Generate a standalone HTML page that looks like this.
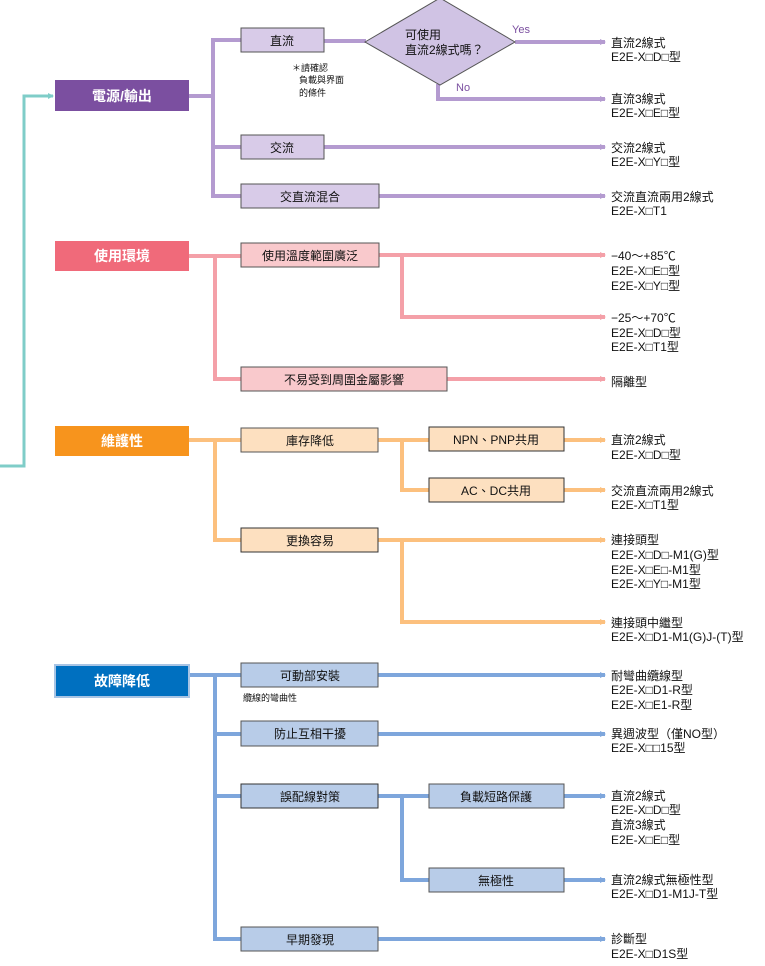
<!DOCTYPE html>
<html><head><meta charset="utf-8"><style>
html,body{margin:0;padding:0;background:#fff;}
svg{display:block;}
text{font-family:"Liberation Sans","Noto Sans CJK TC",sans-serif;font-size:12px;fill:#111;}
.b{font-size:12px;text-anchor:middle;dominant-baseline:central;}
.c{font-size:14px;fill:#fff;text-anchor:middle;dominant-baseline:central;font-weight:bold;}
.s{font-size:9px;}
</style></head><body>
<svg width="765" height="966" viewBox="0 0 765 966" xmlns="http://www.w3.org/2000/svg">
<defs>
<marker id="ap" markerWidth="6" markerHeight="6" refX="5" refY="3" orient="auto" markerUnits="userSpaceOnUse"><path d="M0,0 L6,3 L0,6z" fill="#b49bd0"/></marker>
<marker id="ak" markerWidth="6" markerHeight="6" refX="5" refY="3" orient="auto" markerUnits="userSpaceOnUse"><path d="M0,0 L6,3 L0,6z" fill="#f4a0a8"/></marker>
<marker id="ao" markerWidth="6" markerHeight="6" refX="5" refY="3" orient="auto" markerUnits="userSpaceOnUse"><path d="M0,0 L6,3 L0,6z" fill="#fcc07e"/></marker>
<marker id="ab" markerWidth="6" markerHeight="6" refX="5" refY="3" orient="auto" markerUnits="userSpaceOnUse"><path d="M0,0 L6,3 L0,6z" fill="#7ea6dc"/></marker>
<marker id="at" markerWidth="6" markerHeight="6" refX="5" refY="3" orient="auto" markerUnits="userSpaceOnUse"><path d="M0,0 L6,3 L0,6z" fill="#7fcdc8"/></marker>
</defs>

<!-- teal -->
<polyline points="0,466 24,466 24,96 53,96" fill="none" stroke="#7fcdc8" stroke-width="3" marker-end="url(#at)"/>

<!-- purple -->
<g fill="none" stroke="#b49bd0" stroke-width="4">
<polyline points="189,96 213,96"/>
<polyline points="241,40 213,40 213,196 241,196"/>
<line x1="213" y1="147" x2="241" y2="147"/>
<line x1="324" y1="41" x2="366" y2="41"/>
<line x1="515" y1="42" x2="605" y2="42" marker-end="url(#ap)"/>
<polyline points="438,84 438,99 605,99" marker-end="url(#ap)"/>
<line x1="324" y1="147" x2="605" y2="147" marker-end="url(#ap)"/>
<line x1="379" y1="196" x2="605" y2="196" marker-end="url(#ap)"/>
</g>
<rect x="55" y="80" width="134" height="31" fill="#7b4fa0"/>
<text class="c" x="122" y="96">電源/輸出</text>
<rect x="241" y="28" width="83" height="24" fill="#d8cbe8" stroke="#555" stroke-width="1"/>
<text class="b" x="282" y="41">直流</text>
<rect x="241" y="135" width="83" height="24" fill="#d8cbe8" stroke="#555"/>
<text class="b" x="282" y="148">交流</text>
<rect x="241" y="184" width="138" height="24" fill="#d8cbe8" stroke="#555"/>
<text class="b" x="310" y="197">交直流混合</text>
<polygon points="365,42 440,-2 515,42 440,85" fill="#d0c3e4" stroke="#555"/>
<text x="405" y="39">可使用</text>
<text x="405" y="54">直流2線式嗎？</text>
<text x="512" y="33" style="fill:#7b4fa0;font-size:11px">Yes</text>
<text x="456" y="91" style="fill:#7b4fa0;font-size:11px">No</text>
<text class="s" x="292" y="71">＊請確認</text>
<text class="s" x="299" y="83">負載與界面</text>
<text class="s" x="299" y="96">的條件</text>
<text x="611" y="47">直流2線式</text><text x="611" y="61">E2E-X□D□型</text>
<text x="611" y="103">直流3線式</text><text x="611" y="117">E2E-X□E□型</text>
<text x="611" y="152">交流2線式</text><text x="611" y="166">E2E-X□Y□型</text>
<text x="611" y="201">交流直流兩用2線式</text><text x="611" y="215">E2E-X□T1</text>

<!-- pink -->
<g fill="none" stroke="#f4a0a8" stroke-width="4">
<line x1="189" y1="256" x2="241" y2="256"/>
<polyline points="215,256 215,379 241,379"/>
<line x1="379" y1="255" x2="605" y2="255" marker-end="url(#ak)"/>
<polyline points="402,255 402,317 605,317" marker-end="url(#ak)"/>
<line x1="447" y1="379" x2="605" y2="379" marker-end="url(#ak)"/>
</g>
<rect x="55" y="241" width="134" height="30" fill="#f06a7a"/>
<text class="c" x="122" y="256">使用環境</text>
<rect x="241" y="243" width="138" height="24" fill="#f9c9cc" stroke="#555"/>
<text class="b" x="310" y="256">使用溫度範圍廣泛</text>
<rect x="241" y="367" width="206" height="24" fill="#f9c9cc" stroke="#555"/>
<text class="b" x="344" y="380">不易受到周圍金屬影響</text>
<text x="611" y="260">−40～+85℃</text><text x="611" y="275">E2E-X□E□型</text><text x="611" y="290">E2E-X□Y□型</text>
<text x="611" y="322">−25～+70℃</text><text x="611" y="337">E2E-X□D□型</text><text x="611" y="351">E2E-X□T1型</text>
<text x="611" y="386">隔離型</text>

<!-- orange -->
<g fill="none" stroke="#fcc07e" stroke-width="4">
<line x1="189" y1="440" x2="241" y2="440"/>
<polyline points="215,440 215,540 241,540"/>
<line x1="378" y1="440" x2="429" y2="440"/>
<polyline points="402,440 402,490 429,490"/>
<line x1="564" y1="440" x2="605" y2="440" marker-end="url(#ao)"/>
<line x1="564" y1="490" x2="605" y2="490" marker-end="url(#ao)"/>
<line x1="378" y1="540" x2="605" y2="540" marker-end="url(#ao)"/>
<polyline points="402,540 402,622 605,622" marker-end="url(#ao)"/>
</g>
<rect x="55" y="426" width="134" height="30" fill="#f7941d"/>
<text class="c" x="122" y="441">維護性</text>
<rect x="241" y="428" width="137" height="24" fill="#fde0c0" stroke="#555"/>
<text class="b" x="310" y="441">庫存降低</text>
<rect x="429" y="427" width="135" height="24" fill="#fde0c0" stroke="#333"/>
<text class="b" x="496" y="440">NPN、PNP共用</text>
<rect x="429" y="478" width="135" height="24" fill="#fde0c0" stroke="#333"/>
<text class="b" x="496" y="491">AC、DC共用</text>
<rect x="241" y="528" width="137" height="24" fill="#fde0c0" stroke="#333"/>
<text class="b" x="310" y="541">更換容易</text>
<text x="611" y="444">直流2線式</text><text x="611" y="459">E2E-X□D□型</text>
<text x="611" y="495">交流直流兩用2線式</text><text x="611" y="509">E2E-X□T1型</text>
<text x="611" y="544">連接頭型</text><text x="611" y="559">E2E-X□D□-M1(G)型</text><text x="611" y="574">E2E-X□E□-M1型</text><text x="611" y="588">E2E-X□Y□-M1型</text>
<text x="611" y="627">連接頭中繼型</text><text x="611" y="641">E2E-X□D1-M1(G)J-(T)型</text>

<!-- blue -->
<g fill="none" stroke="#7ea6dc" stroke-width="4">
<line x1="189" y1="675" x2="241" y2="675"/>
<polyline points="215,675 215,939 241,939"/>
<line x1="215" y1="734" x2="241" y2="734"/>
<line x1="215" y1="796" x2="241" y2="796"/>
<line x1="378" y1="675" x2="605" y2="675" marker-end="url(#ab)"/>
<line x1="378" y1="734" x2="605" y2="734" marker-end="url(#ab)"/>
<line x1="378" y1="796" x2="429" y2="796"/>
<polyline points="402,796 402,880 429,880"/>
<line x1="564" y1="796" x2="605" y2="796" marker-end="url(#ab)"/>
<line x1="564" y1="880" x2="605" y2="880" marker-end="url(#ab)"/>
<line x1="378" y1="939" x2="605" y2="939" marker-end="url(#ab)"/>
</g>
<rect x="55" y="665" width="134" height="32" fill="#0070c0" stroke="#a8c4e4" stroke-width="2"/>
<text class="c" x="122" y="681">故障降低</text>
<rect x="241" y="663" width="137" height="24" fill="#b8cce8" stroke="#555"/>
<text class="b" x="310" y="676">可動部安裝</text>
<text class="s" x="243" y="701">纜線的彎曲性</text>
<rect x="241" y="721" width="137" height="25" fill="#b8cce8" stroke="#555"/>
<text class="b" x="310" y="734">防止互相干擾</text>
<rect x="241" y="784" width="137" height="24" fill="#b8cce8" stroke="#333"/>
<text class="b" x="310" y="797">誤配線對策</text>
<rect x="429" y="784" width="135" height="24" fill="#b8cce8" stroke="#555"/>
<text class="b" x="496" y="797">負載短路保護</text>
<rect x="429" y="868" width="135" height="24" fill="#b8cce8" stroke="#555"/>
<text class="b" x="496" y="881">無極性</text>
<rect x="241" y="927" width="137" height="24" fill="#b8cce8" stroke="#555"/>
<text class="b" x="310" y="940">早期發現</text>
<text x="611" y="680">耐彎曲纜線型</text><text x="611" y="694">E2E-X□D1-R型</text><text x="611" y="709">E2E-X□E1-R型</text>
<text x="611" y="738">異週波型（僅NO型）</text><text x="611" y="752">E2E-X□□15型</text>
<text x="611" y="800">直流2線式</text><text x="611" y="814">E2E-X□D□型</text><text x="611" y="829">直流3線式</text><text x="611" y="844">E2E-X□E□型</text>
<text x="611" y="884">直流2線式無極性型</text><text x="611" y="898">E2E-X□D1-M1J-T型</text>
<text x="611" y="943">診斷型</text><text x="611" y="958">E2E-X□D1S型</text>
</svg>
</body></html>
